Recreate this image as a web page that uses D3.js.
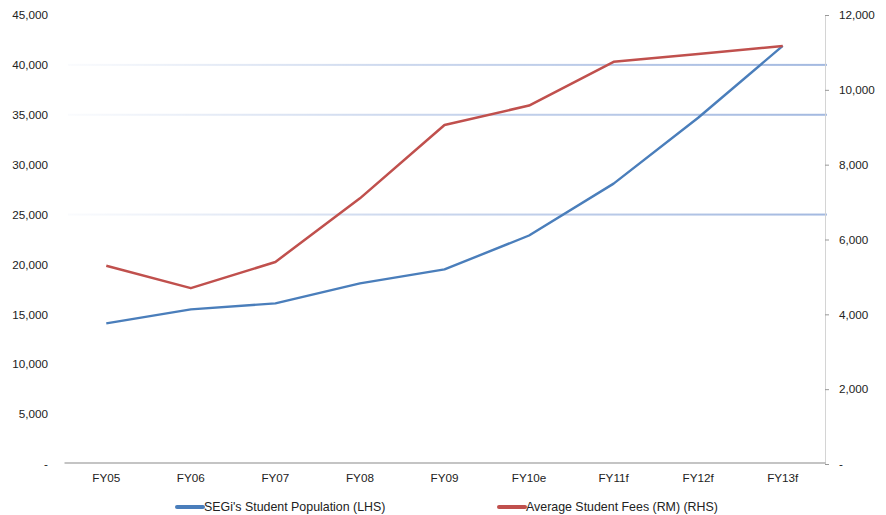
<!DOCTYPE html>
<html>
<head>
<meta charset="utf-8">
<script src="https://cdn.jsdelivr.net/npm/d3@7"></script>
<style>
  html, body { margin: 0; padding: 0; background: #fff; }
  svg { display: block; font-family: "Liberation Sans", Arial, sans-serif; }
</style>
</head>
<body>
<svg id="chart" width="886" height="515"></svg>
<script>
// Fiscal years on the x axis
const years = ["FY05", "FY06", "FY07", "FY08", "FY09", "FY10e", "FY11f", "FY12f", "FY13f"];
// SEGi's student population (left axis)
const population = [14100, 15500, 16100, 18100, 19500, 22900, 28100, 34700, 41900];
// Average student fees in RM (right axis)
const fees = [5300, 4700, 5400, 7100, 9060, 9580, 10750, 10960, 11170];
// Axis ticks
const leftTicks = [0, 5000, 10000, 15000, 20000, 25000, 30000, 35000, 40000, 45000];
const rightTicks = [0, 2000, 4000, 6000, 8000, 10000, 12000];
// Horizontal reference lines (left-axis values)
const gridValues = [25000, 35000, 40000];

const seriesNames = ["SEGi's Student Population (LHS)", "Average Student Fees (RM) (RHS)"];
const colors = ["#4a7ebb", "#c0504d"];

const svg = d3.select("#chart");
const plotLeft = 64, plotRight = 825, plotTop = 15, plotBottom = 464;
const axisFont = 11.7, legendFont = 12.4;

const x = d3.scaleBand().domain(years).range([plotLeft, plotRight]);
const yL = d3.scaleLinear().domain([0, 45000]).range([plotBottom, plotTop]);
const yR = d3.scaleLinear().domain([0, 12000]).range([plotBottom, plotTop]);

const fmt = v => v === 0 ? "-" : d3.format(",")(v);

// gradient for the fading reference lines
const defs = svg.append("defs");
const grad = defs.append("linearGradient").attr("id", "gridFade")
  .attr("gradientUnits", "userSpaceOnUse")
  .attr("x1", plotLeft).attr("x2", plotRight).attr("y1", 0).attr("y2", 0);
grad.append("stop").attr("offset", "0%").attr("stop-color", "#a9bde2").attr("stop-opacity", 0.05);
grad.append("stop").attr("offset", "45%").attr("stop-color", "#a9bde2").attr("stop-opacity", 0.6);
grad.append("stop").attr("offset", "100%").attr("stop-color", "#a3b9e0").attr("stop-opacity", 1);

svg.append("g").selectAll("rect").data(gridValues).join("rect")
  .attr("x", plotLeft + 4).attr("width", plotRight + 2 - plotLeft - 4)
  .attr("y", d => yL(d) - 1).attr("height", 2)
  .attr("fill", "url(#gridFade)");

// left axis (labels only)
const gL = svg.append("g").attr("transform", `translate(${plotLeft},0)`)
  .call(d3.axisLeft(yL).tickValues(leftTicks).tickFormat(fmt).tickSize(0).tickPadding(16));
gL.select(".domain").remove();
gL.selectAll("text").attr("font-size", axisFont).attr("fill", "#222");

// right axis
const gR = svg.append("g").attr("transform", `translate(${plotRight},0)`)
  .call(d3.axisRight(yR).tickValues(rightTicks).tickFormat(fmt).tickSize(4).tickPadding(10));
gR.select(".domain").attr("stroke", "#d4d4d4");
gR.selectAll(".tick line").attr("stroke", "#999");
gR.selectAll("text").attr("font-size", axisFont).attr("fill", "#222");

// bottom axis
const gB = svg.append("g").attr("transform", `translate(0,${plotBottom - 1.5})`)
  .call(d3.axisBottom(x).tickSize(0).tickPadding(11));
gB.select(".domain").attr("stroke", "#8a8a8a").attr("stroke-width", 1.2);
gB.selectAll("text").attr("font-size", axisFont).attr("fill", "#222");

// lines
const cx = d => x(d) + x.bandwidth() / 2;
const lineL = d3.line().x((d, i) => cx(years[i])).y(d => yL(d));
const lineR = d3.line().x((d, i) => cx(years[i])).y(d => yR(d));

svg.append("path").datum(population).attr("d", lineL)
  .attr("fill", "none").attr("stroke", colors[0]).attr("stroke-width", 2.4)
  .attr("stroke-linejoin", "round");
svg.append("path").datum(fees).attr("d", lineR)
  .attr("fill", "none").attr("stroke", colors[1]).attr("stroke-width", 2.5)
  .attr("stroke-linejoin", "round");

// legend
const legendX = [177, 499];
const lg = svg.append("g").selectAll("g").data(seriesNames).join("g")
  .attr("transform", (d, i) => `translate(${legendX[i]},507)`);
lg.append("line").attr("x1", 0).attr("x2", 26).attr("y1", 0).attr("y2", 0)
  .attr("stroke", (d, i) => colors[i]).attr("stroke-width", 4).attr("stroke-linecap", "round");
lg.append("text").attr("x", 27).attr("y", 4.3).attr("font-size", legendFont).attr("fill", "#222")
  .text(d => d);
</script>
</body>
</html>
